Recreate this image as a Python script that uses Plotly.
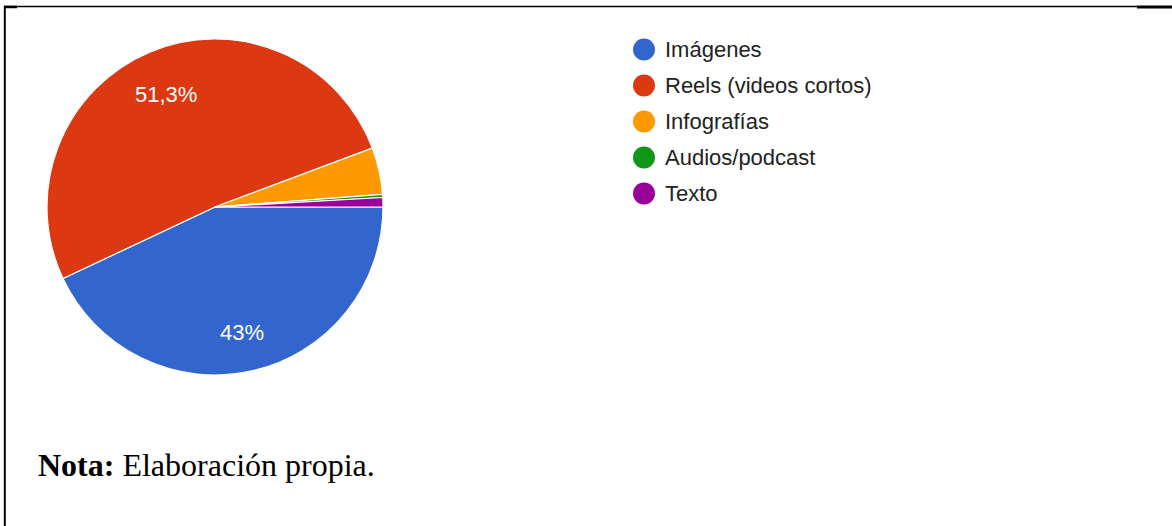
import math
import plotly.graph_objects as go

# Survey shares by content format
labels = ["Imágenes", "Reels (videos cortos)", "Infografías", "Audios/podcast", "Texto"]
values = [43.0, 51.3, 4.5, 0.3, 0.9]
colors = ["#3366CC", "#DC3912", "#FF9900", "#109618", "#990099"]
shown_labels = ["43%", "51,3%", "", "", ""]

W, H = 1172, 526
cx, cy, R = 215, 207, 168  # pie centre and radius in pixels


def px(x):
    return x / W


def py(y):
    return 1 - y / H


fig = go.Figure()
fig.add_trace(go.Pie(
    labels=labels,
    values=values,
    marker=dict(colors=colors, line=dict(color="white", width=1.2)),
    sort=False,
    direction="clockwise",
    rotation=90,
    textinfo="none",
    hoverinfo="label+percent",
    showlegend=False,
    domain=dict(x=[px(cx - R), px(cx + R)], y=[py(cy + R), py(cy - R)]),
))

annotations = []
shapes = []

# Percentage labels placed along each slice's bisector
total = sum(values)
start = 0.0
for v, t in zip(values, shown_labels):
    frac = v / total
    mid = (start + frac / 2) * 2 * math.pi  # clockwise from 3 o'clock
    start += frac
    if not t:
        continue
    r_lab = 0.745 * R
    lx = cx + r_lab * math.cos(mid)
    ly = cy + r_lab * math.sin(mid) + 3
    annotations.append(dict(
        x=px(lx), y=py(ly), xref="paper", yref="paper",
        text=t, showarrow=False, xanchor="center", yanchor="middle",
        font=dict(family="Liberation Sans, Arial", size=22, color="white"),
    ))

# Legend with round swatches
leg_x, leg_y0, leg_dy, dot = 644, 49.5, 36, 22
for i, (lab, col) in enumerate(zip(labels, colors)):
    y = leg_y0 + i * leg_dy
    shapes.append(dict(
        type="circle", xref="paper", yref="paper",
        x0=px(leg_x - dot / 2), x1=px(leg_x + dot / 2),
        y0=py(y + dot / 2), y1=py(y - dot / 2),
        fillcolor=col, line=dict(width=0),
    ))
    annotations.append(dict(
        x=px(663), y=py(y), xref="paper", yref="paper",
        text=lab, showarrow=False, xanchor="left", yanchor="middle",
        font=dict(family="Liberation Sans, Arial", size=22, color="#222222"),
    ))

# Source note
annotations.append(dict(
    x=px(36), y=py(465), xref="paper", yref="paper",
    text="<b>Nota:</b> Elaboración propia.", showarrow=False,
    xanchor="left", yanchor="middle",
    font=dict(family="Liberation Serif, Times New Roman", size=32, color="black"),
))

# Frame lines
line_col = "black"
shapes += [
    dict(type="line", xref="paper", yref="paper",
         x0=px(4), x1=px(1137), y0=py(6.5), y1=py(6.5),
         line=dict(color=line_col, width=1.5)),
    dict(type="line", xref="paper", yref="paper",
         x0=px(1137), x1=px(1172), y0=py(7), y1=py(7),
         line=dict(color=line_col, width=3)),
    dict(type="line", xref="paper", yref="paper",
         x0=px(4), x1=px(17), y0=py(7), y1=py(7),
         line=dict(color=line_col, width=2.5)),
    dict(type="line", xref="paper", yref="paper",
         x0=px(4.8), x1=px(4.8), y0=py(6), y1=py(526),
         line=dict(color=line_col, width=2)),
]

fig.update_layout(
    width=W, height=H,
    margin=dict(l=0, r=0, t=0, b=0),
    paper_bgcolor="white", plot_bgcolor="white",
    annotations=annotations, shapes=shapes,
)

fig.write_html("out.html")
